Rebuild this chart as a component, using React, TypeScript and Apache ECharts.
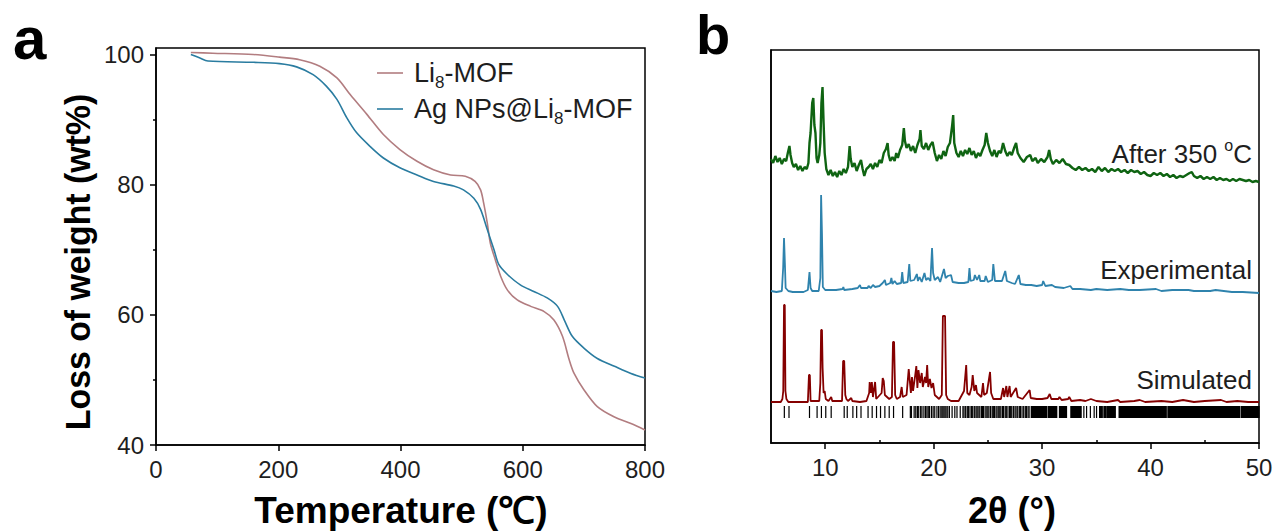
import React, { useEffect, useRef } from "react";
import * as echarts from "echarts";

// ---------- Panel a: TGA ----------
const tgaLi8: [number, number][] = [
  [57, 100.3], [93, 100.2], [159, 100], [202, 99.6], [235, 99.2], [268, 98.2], [296, 96.4],
  [318, 93.8], [345, 90.8], [372, 87.7], [399, 85.4], [427, 83.6], [454, 82.3], [482, 81.5],
  [506, 81.3], [522, 80.5], [531, 79.2], [536, 77.2], [542, 74.1], [547, 71], [555, 68.5],
  [564, 65.9], [575, 63.8], [591, 62.3], [613, 61.3], [635, 60.5], [651, 59.2], [665, 56.7],
  [676, 53.1], [684, 51], [700, 48.5], [722, 45.9], [750, 44.3], [777, 43.3], [800, 42.3],
];
const tgaAg: [number, number][] = [
  [57, 100], [71, 99.5], [85, 99], [159, 98.8], [202, 98.6], [230, 98.1], [257, 96.9],
  [279, 95.1], [296, 93.1], [312, 90.3], [328, 88], [350, 85.9], [372, 84.1], [399, 82.6],
  [427, 81.5], [454, 80.5], [487, 79.8], [503, 79.2], [520, 77.9], [531, 76.2], [542, 73.1],
  [553, 70], [561, 67.7], [575, 66.2], [596, 64.6], [618, 63.6], [640, 62.6], [657, 61.3],
  [668, 59.2], [681, 56.7], [700, 54.9], [722, 53.3], [750, 52.1], [777, 51], [800, 50.3],
];
const tgaNames = ["Li8-MOF", "Ag NPs@Li8-MOF"];
const tgaXTicks = [0, 200, 400, 600, 800];
const tgaYTicks = [40, 60, 80, 100];

// ---------- Panel b: XRD (stacked, arbitrary units) ----------
const xrdAfter350: [number, number][] = [
  [5.0, 284], [5.2, 280], [5.4, 287], [5.6, 281], [5.8, 285], [6.0, 279], [6.2, 284], [6.4, 282],
  [6.55, 290], [6.7, 297], [6.8, 288], [6.95, 280], [7.1, 276], [7.3, 279], [7.5, 273], [7.7, 277],
  [7.9, 272], [8.1, 276], [8.3, 274], [8.45, 280], [8.55, 300], [8.65, 310], [8.8, 340], [8.9, 345],
  [9.0, 318], [9.1, 310], [9.2, 285], [9.3, 280], [9.45, 288], [9.55, 300], [9.65, 340], [9.75, 356],
  [9.85, 320], [9.95, 290], [10.1, 274], [10.3, 268], [10.5, 273], [10.7, 267], [10.9, 271], [11.1, 266],
  [11.3, 272], [11.5, 268], [11.7, 274], [11.9, 270], [12.1, 276], [12.25, 297], [12.35, 284], [12.5, 276],
  [12.7, 280], [12.9, 272], [13.1, 278], [13.3, 283], [13.45, 274], [13.6, 267], [13.8, 274], [14.0, 276],
  [14.2, 279], [14.4, 274], [14.6, 280], [14.8, 276], [15.0, 283], [15.2, 280], [15.4, 290], [15.6, 294],
  [15.75, 300], [15.85, 288], [16.0, 282], [16.2, 286], [16.4, 282], [16.55, 290], [16.7, 285], [16.9, 293],
  [17.1, 298], [17.25, 315], [17.35, 302], [17.5, 295], [17.7, 299], [17.9, 292], [18.1, 297], [18.3, 290],
  [18.5, 298], [18.7, 304], [18.78, 313], [18.9, 297], [19.1, 294], [19.3, 300], [19.5, 293], [19.7, 298],
  [19.9, 301], [20.1, 290], [20.3, 282], [20.5, 288], [20.7, 284], [20.9, 292], [21.1, 287], [21.3, 296],
  [21.5, 300], [21.7, 317], [21.8, 328], [21.9, 300], [22.1, 290], [22.3, 286], [22.5, 292], [22.7, 287],
  [22.9, 293], [23.1, 289], [23.3, 295], [23.5, 288], [23.7, 292], [23.9, 285], [24.1, 290], [24.3, 287],
  [24.5, 293], [24.7, 298], [24.85, 310], [25.0, 300], [25.2, 292], [25.4, 287], [25.6, 293], [25.8, 286],
  [26.0, 292], [26.2, 290], [26.4, 300], [26.6, 292], [26.8, 287], [27.0, 291], [27.2, 288], [27.45, 296],
  [27.6, 300], [27.75, 290], [28.0, 285], [28.3, 281], [28.6, 286], [28.9, 288], [29.1, 282], [29.4, 285],
  [29.6, 280], [29.9, 284], [30.2, 281], [30.5, 286], [30.65, 293], [30.8, 284], [31.0, 279], [31.3, 283],
  [31.6, 280], [31.9, 284], [32.2, 279], [32.5, 278], [32.8, 275], [33.1, 273], [33.4, 276], [33.7, 273],
  [34.0, 275], [34.3, 272], [34.6, 274], [34.9, 271], [35.2, 276], [35.5, 272], [35.8, 275], [36.1, 271],
  [36.4, 274], [36.7, 272], [37.0, 274], [37.3, 271], [37.6, 273], [37.9, 270], [38.2, 273], [38.5, 271],
  [38.8, 272], [39.1, 269], [39.4, 271], [39.7, 268], [40.0, 267], [40.3, 270], [40.6, 268], [40.9, 270],
  [41.2, 267], [41.5, 269], [41.8, 266], [42.1, 268], [42.4, 265], [42.7, 267], [43.0, 266], [43.3, 268],
  [43.6, 270], [43.8, 271], [44.0, 267], [44.3, 265], [44.6, 267], [44.9, 264], [45.2, 266], [45.5, 264],
  [45.8, 266], [46.1, 263], [46.4, 265], [46.7, 263], [47.0, 264], [47.3, 262], [47.6, 264], [47.9, 262],
  [48.2, 264], [48.5, 263], [48.8, 262], [49.1, 263], [49.4, 261], [49.7, 262], [50.0, 261],
];
const xrdExperimental: [number, number][] = [
  [5.0, 152], [5.5, 151], [6.0, 152], [6.12, 175], [6.2, 205], [6.28, 180], [6.35, 155], [6.6, 152],
  [7.0, 151], [8.0, 151], [8.4, 153], [8.55, 171], [8.65, 155], [8.8, 152], [9.4, 152], [9.55, 165],
  [9.62, 248], [9.7, 210], [9.78, 156], [10.0, 153], [11.0, 153], [11.6, 154], [11.67, 156], [11.75, 153],
  [12.5, 154], [13.0, 155], [13.2, 158], [13.3, 155], [13.9, 155], [14.0, 157], [14.2, 155], [14.4, 158],
  [14.6, 156], [15.0, 157], [15.3, 160], [15.5, 163], [15.6, 158], [16.0, 160], [16.1, 165], [16.2, 159],
  [16.4, 162], [16.6, 159], [17.0, 160], [17.1, 171], [17.2, 160], [17.6, 161], [17.75, 179], [17.85, 162],
  [18.2, 163], [18.45, 169], [18.55, 162], [18.7, 166], [18.9, 161], [19.15, 170], [19.3, 163], [19.5, 165],
  [19.7, 162], [19.85, 195], [19.95, 170], [20.1, 163], [20.4, 166], [20.6, 161], [20.95, 174], [21.1, 165],
  [21.3, 167], [21.6, 168], [21.75, 161], [22.3, 160], [22.8, 160], [23.2, 161], [23.3, 175], [23.4, 162],
  [23.7, 163], [23.8, 168], [24.0, 163], [24.2, 168], [24.3, 162], [24.7, 162], [24.8, 167], [25.0, 161],
  [25.4, 163], [25.5, 179], [25.65, 162], [26.3, 162], [26.6, 172], [26.75, 162], [27.2, 160], [27.5, 159],
  [27.85, 168], [28.0, 159], [28.5, 158], [29.0, 158], [29.5, 157], [30.0, 158], [30.1, 162], [30.3, 157],
  [30.9, 158], [31.2, 156], [32.0, 155], [32.6, 157], [32.8, 154], [33.5, 154], [34.5, 153], [35.0, 154],
  [36.0, 153], [37.2, 154], [38.0, 153], [39.0, 153], [40.5, 154], [41.0, 152], [42.0, 153], [43.5, 153],
  [44.0, 152], [45.5, 152], [46.0, 153], [47.5, 151], [48.5, 151], [50.0, 150],
];
const xrdSimulated: [number, number][] = [
  [5.0, 41], [5.9, 41], [6.05, 44], [6.13, 52], [6.2, 138], [6.27, 138], [6.33, 52], [6.42, 44], [6.6, 41],
  [8.4, 41], [8.5, 68], [8.58, 68], [8.65, 42],
  [9.45, 42], [9.55, 60], [9.62, 113], [9.7, 113], [9.76, 75], [9.85, 50], [9.95, 52], [10.05, 44],
  [10.3, 42], [10.55, 46], [10.65, 42],
  [11.55, 42], [11.65, 82], [11.75, 82], [11.85, 48], [11.95, 44], [12.1, 42], [12.4, 45], [12.5, 42], [13.2, 41],
  [13.8, 42], [14.05, 50], [14.1, 61], [14.2, 50], [14.3, 61], [14.4, 46], [14.6, 61], [14.7, 44],
  [15.2, 50], [15.3, 65], [15.4, 62], [15.5, 48], [15.7, 46], [15.9, 44],
  [16.15, 46], [16.25, 101], [16.35, 101], [16.45, 48], [16.6, 44], [16.9, 46], [17.05, 56], [17.15, 46], [17.5, 48],
  [17.7, 74], [17.8, 62], [17.9, 50], [18.0, 66], [18.1, 52], [18.3, 68], [18.4, 77], [18.5, 55], [18.6, 73],
  [18.75, 60], [18.9, 70], [19.0, 56], [19.2, 66], [19.3, 60], [19.4, 78], [19.5, 56], [19.65, 64], [19.8, 55],
  [19.95, 60], [20.1, 48], [20.5, 44],
  [20.75, 48], [20.85, 127], [21.05, 127], [21.15, 48], [21.3, 44], [21.6, 42], [22.3, 42], [22.5, 46],
  [22.8, 52], [23.0, 78], [23.1, 50], [23.3, 48], [23.5, 56], [23.6, 68], [23.75, 52], [23.9, 58], [24.0, 50],
  [24.4, 46], [24.55, 60], [24.65, 48], [24.9, 50], [25.2, 71], [25.3, 50], [25.5, 44],
  [26.2, 44], [26.4, 55], [26.5, 46], [26.7, 57], [26.8, 46], [27.0, 57], [27.1, 46], [27.6, 55], [27.75, 46],
  [28.2, 44], [28.85, 53], [28.95, 45], [29.5, 44], [30.0, 44], [30.5, 45], [30.7, 49], [30.85, 44], [31.5, 44],
  [31.6, 46], [31.8, 43], [32.4, 44], [32.5, 46], [32.7, 42], [33.5, 43], [34.0, 42], [34.5, 44], [35.0, 42],
  [36.0, 41], [37.0, 43], [37.2, 41], [38.5, 42], [39.0, 43], [39.5, 41], [41.0, 42], [42.0, 41], [43.0, 43],
  [44.0, 41], [45.0, 42], [46.5, 43], [47.0, 41], [48.0, 42], [49.0, 41], [50.0, 41],
];
// reflection positions (2θ) as [from, to]; single lines have from === to
const reflLines = [
  6.23, 6.66, 8.55, 9.25, 9.65, 10.05, 10.55, 11.75, 12.03, 12.55, 12.9, 13.3, 13.95, 14.33, 14.73, 15.1,
  15.5, 15.9, 16.3, 17.14, 17.85, 17.95, 18.2, 18.35, 18.5, 18.62, 18.8, 18.92, 19.1, 19.25, 19.38, 19.5,
  19.62, 19.8, 19.95, 20.1, 20.3, 20.45, 20.6, 20.75, 20.85, 20.95, 21.05, 21.15, 21.3, 21.45, 21.7, 21.95,
  22.15, 22.45, 22.7, 22.8, 22.95, 23.1, 23.2, 23.35, 23.5, 23.6, 23.75, 23.9, 24.0, 24.1, 24.25, 24.4, 24.5,
  24.6, 24.75, 24.9, 25.0, 25.1, 25.25, 25.4, 25.5, 25.6, 25.75, 25.85, 26.0, 26.1, 26.2, 26.35, 26.45, 26.6,
  26.7, 26.85, 27.0, 27.1, 27.2, 27.35, 27.5, 27.6, 27.75, 27.9, 28.0, 28.15, 28.3, 28.45, 28.55, 28.7, 28.8,
  33.85, 34.1, 34.45, 34.8, 35.02,
];
const reflBands: [number, number][] = [
  [29.0, 30.4], [30.55, 31.35], [31.6, 32.25], [32.65, 33.6], [35.3, 35.55], [35.7, 35.9], [36.0, 36.75],
  [37.1, 41.45], [41.6, 48.2], [48.35, 50],
];
const xrdXTicks = [10, 20, 30, 40, 50];
const xrdXMinor = [15, 25, 35, 45];

const FONT = 'Arial, "Liberation Sans", Helvetica, sans-serif';
const INK = "#1e1e1e";

export default function App() {
  const ref = useRef<HTMLDivElement>(null);
  useEffect(() => {
    if (!ref.current) return;
    const chart = echarts.init(ref.current, undefined, { renderer: "svg" });
    const reflData: [number, number][] = [
      ...reflLines.map((p) => [p, p] as [number, number]),
      ...reflBands,
    ];
    const axisLine = { show: true, onZero: false, lineStyle: { color: "#000", width: 1.5 } };
    const tickLabel = { color: INK, fontSize: 24, fontFamily: FONT };
    const aLeft = 156, aRight = 645, aTop = 48, aBottom = 445;
    const bLeft = 771, bRight = 1259, bTop = 50, bBottom = 443;
    const legendRich = {
      n: { fontSize: 27, fontFamily: FONT, color: INK, lineHeight: 32 },
      s: { fontSize: 17, fontFamily: FONT, color: INK, verticalAlign: "top", lineHeight: 20, padding: [17, 0, 0, 0] },
    };
    chart.setOption({
      animation: false,
      backgroundColor: "#fff",
      grid: [
        {
          left: aLeft, top: aTop, width: aRight - aLeft, height: aBottom - aTop,
          show: true, borderColor: "#000", borderWidth: 1.5, backgroundColor: "transparent",
        },
        {
          left: bLeft, top: bTop, width: bRight - bLeft, height: bBottom - bTop,
          show: true, borderColor: "#000", borderWidth: 1.5, backgroundColor: "transparent",
        },
      ],
      xAxis: [
        {
          gridIndex: 0, type: "value", min: 0, max: 800, interval: 200,
          axisLine, splitLine: { show: false },
          axisTick: { show: true, length: 6, inside: false, lineStyle: { color: "#000", width: 1.5 } },
          axisLabel: { ...tickLabel, margin: 12, customValues: tgaXTicks },
        },
        {
          gridIndex: 1, type: "value", min: 5, max: 50,
          axisLine, splitLine: { show: false },
          axisTick: { show: true, length: 6, customValues: xrdXTicks, lineStyle: { color: "#000", width: 1.5 } },
          axisLabel: { ...tickLabel, margin: 12, customValues: xrdXTicks },
        },
        {
          gridIndex: 1, type: "value", min: 5, max: 50,
          axisLine: { show: false }, splitLine: { show: false },
          axisTick: { show: true, length: 3, customValues: xrdXMinor, lineStyle: { color: "#000", width: 1.5 } },
          axisLabel: { show: false },
        },
      ],
      yAxis: [
        {
          gridIndex: 0, type: "value", min: 40, max: 101, interval: 20,
          axisLine, splitLine: { show: false },
          axisTick: { show: true, length: 6, customValues: tgaYTicks, lineStyle: { color: "#000", width: 1.5 } },
          minorTick: { show: true, splitNumber: 2, length: 3, lineStyle: { color: "#000", width: 1.5 } },
          axisLabel: { ...tickLabel, margin: 12, customValues: tgaYTicks },
        },
        {
          gridIndex: 1, type: "value", min: 0, max: bBottom - bTop,
          axisLine, splitLine: { show: false },
          axisTick: { show: false }, axisLabel: { show: false },
        },
      ],
      legend: {
        data: tgaNames,
        orient: "vertical",
        left: 372, top: 52,
        itemGap: 2, itemWidth: 26, itemHeight: 1.6,
        icon: "rect",
        formatter: (name: string) => {
          const i = name.indexOf("8");
          return `{n|${name.slice(0, i)}}{s|8}{n|${name.slice(i + 1)}}`;
        },
        textStyle: { rich: legendRich, padding: [0, 0, 0, 6] },
      },
      series: [
        {
          name: tgaNames[0], type: "line", xAxisIndex: 0, yAxisIndex: 0, data: tgaLi8,
          symbol: "none", smooth: 0.3, lineStyle: { color: "#b27d80", width: 1.6 }, itemStyle: { color: "#b27d80" },
        },
        {
          name: tgaNames[1], type: "line", xAxisIndex: 0, yAxisIndex: 0, data: tgaAg,
          symbol: "none", smooth: 0.3, lineStyle: { color: "#2a7ca0", width: 1.6 }, itemStyle: { color: "#2a7ca0" },
        },
        {
          name: "After 350", type: "line", xAxisIndex: 1, yAxisIndex: 1, data: xrdAfter350,
          symbol: "none", lineStyle: { color: "#0f6412", width: 2.4 },
        },
        {
          name: "Experimental", type: "line", xAxisIndex: 1, yAxisIndex: 1, data: xrdExperimental,
          symbol: "none", lineStyle: { color: "#2f83ad", width: 1.8 },
        },
        {
          name: "Simulated", type: "line", xAxisIndex: 1, yAxisIndex: 1, data: xrdSimulated,
          symbol: "none", lineStyle: { color: "#850000", width: 1.8 },
        },
        {
          name: "Reflections", type: "custom", xAxisIndex: 1, yAxisIndex: 1, data: reflData,
          encode: { x: [0, 1] },
          renderItem: (_p: any, api: any) => {
            const a = api.coord([api.value(0), 37]);
            const b = api.coord([api.value(1), 25]);
            return {
              type: "rect",
              shape: { x: a[0] - 0.6, y: a[1], width: Math.max(1.2, b[0] - a[0] + 1.2), height: b[1] - a[1] },
              style: { fill: "#000" },
            };
          },
        },
      ],
      graphic: [
        { type: "text", left: 13, top: 8, style: { text: "a", font: `bold 60px ${FONT}`, fill: "#000" } },
        { type: "text", left: 696, top: 6, style: { text: "b", font: `bold 56px ${FONT}`, fill: "#000" } },
        {
          type: "text", x: 77, y: 262, rotation: Math.PI / 2, scaleX: 0.94,
          style: { text: "Loss of weight (wt%)", font: `bold 36px ${FONT}`, fill: "#000", align: "center", verticalAlign: "middle" },
        },
        {
          type: "text", x: 401, y: 510,
          style: { text: "Temperature (℃)", font: `bold 37px ${FONT}`, fill: "#000", align: "center", verticalAlign: "middle" },
        },
        {
          type: "text", x: 1012, y: 510,
          style: { text: "2θ (°)", font: `bold 36px ${FONT}`, fill: "#000", align: "center", verticalAlign: "middle" },
        },
        {
          type: "text", x: 1252, y: 152,
          style: {
            text: "{n|After 350 }{s|o}{n|C}", align: "right", verticalAlign: "middle",
            rich: {
              n: { fontSize: 26, fontFamily: FONT, fill: INK, lineHeight: 30, verticalAlign: "bottom" },
              s: { fontSize: 16, fontFamily: FONT, fill: INK, lineHeight: 20, verticalAlign: "top" },
            },
          },
        },
        {
          type: "text", x: 1252, y: 270,
          style: { text: "Experimental", font: `26px ${FONT}`, fill: INK, align: "right", verticalAlign: "middle" },
        },
        {
          type: "text", x: 1252, y: 380,
          style: { text: "Simulated", font: `26px ${FONT}`, fill: INK, align: "right", verticalAlign: "middle" },
        },
      ],
    });
    return () => chart.dispose();
  }, []);
  return <div ref={ref} style={{ position: "absolute", left: 0, top: 0, width: 1277, height: 532 }} />;
}
